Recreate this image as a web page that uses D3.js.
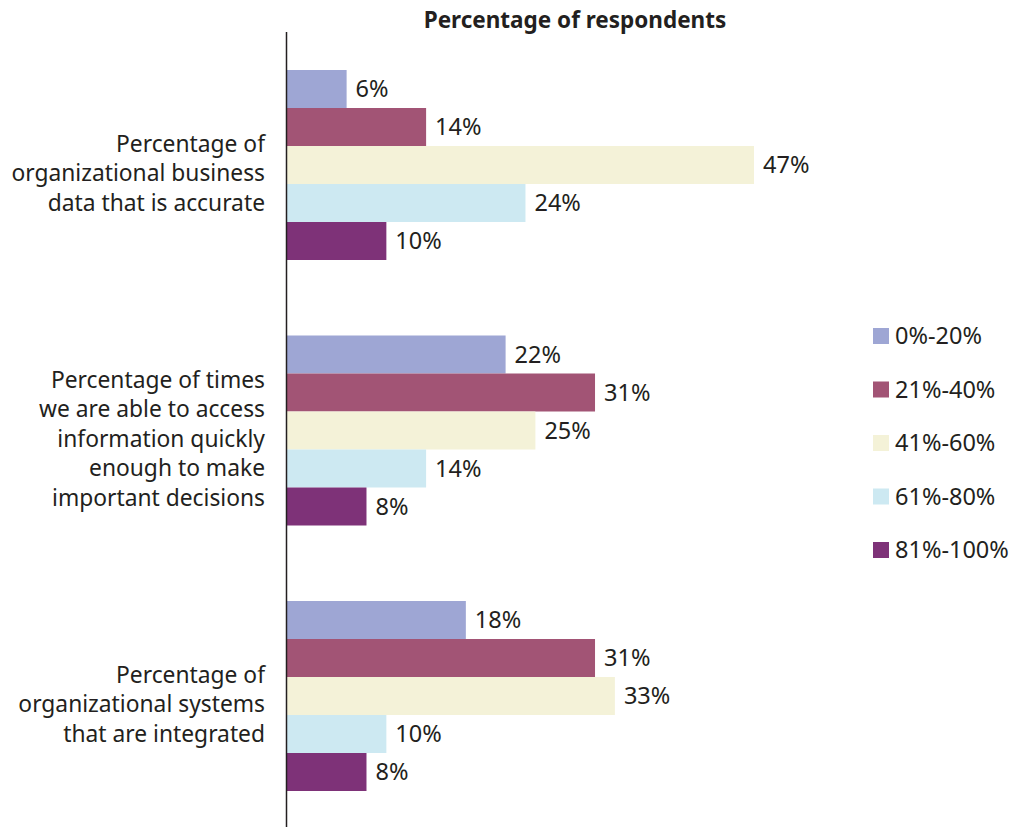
<!DOCTYPE html>
<html>
<head>
<meta charset="utf-8">
<script src="https://cdn.jsdelivr.net/npm/d3@7"></script>
<style>
  html, body { margin: 0; padding: 0; background: #fff; }
  svg { display: block; font-family: "Noto Sans", "Open Sans", sans-serif; }
</style>
</head>
<body>
<svg id="chart" width="1018" height="827"></svg>
<script>
// Survey questions (y categories), one line per array entry
const categories = [
  ["Percentage of", "organizational business", "data that is accurate"],
  ["Percentage of times", "we are able to access", "information quickly", "enough to make", "important decisions"],
  ["Percentage of", "organizational systems", "that are integrated"]
];
// Response bands (series)
const bands = ["0%-20%", "21%-40%", "41%-60%", "61%-80%", "81%-100%"];
const bandColors = ["#9ea6d4", "#a25475", "#f4f2d8", "#cde9f2", "#7e3278"];
// Percentage of respondents, per category, per band
const values = [
  [6, 14, 47, 24, 10],
  [22, 31, 25, 14, 8],
  [18, 31, 33, 10, 8]
];
const title = "Percentage of respondents";

const svg = d3.select("#chart");
const textColor = "#231f20";

const x = d3.scaleLinear().domain([0, 47]).range([287, 754]);
// Groups are 265.5px apart; each group holds five 38px bars
const groupStep = 265.5;
const barH = 38;
const groupTop = i => 70 + i * groupStep;
const y1 = d3.scaleBand().domain(d3.range(bands.length)).range([0, barH * bands.length]);

// Title
svg.append("text")
  .attr("x", 575).attr("y", 28)
  .attr("text-anchor", "middle")
  .attr("font-weight", "bold")
  .attr("font-size", 22.5)
  .attr("fill", textColor)
  .text(title);

// Bars and value labels
const groups = svg.selectAll("g.group")
  .data(values)
  .join("g")
  .attr("class", "group")
  .attr("transform", (d, i) => `translate(0,${groupTop(i)})`);

groups.selectAll("rect")
  .data(d => d)
  .join("rect")
  .attr("x", x(0))
  .attr("y", (d, j) => y1(j))
  .attr("width", d => x(d) - x(0))
  .attr("height", y1.bandwidth())
  .attr("fill", (d, j) => bandColors[j]);

groups.selectAll("text.val")
  .data(d => d)
  .join("text")
  .attr("class", "val")
  .attr("x", d => x(d) + 9)
  .attr("y", (d, j) => y1(j) + y1.bandwidth() / 2)
  .attr("dy", "0.36em")
  .attr("font-size", 23.5)
  .attr("fill", textColor)
  .text(d => d + "%");

// Category labels, right-aligned against the axis
const lineH = 29.5;
categories.forEach((lines, i) => {
  const center = groupTop(i) + (barH * bands.length) / 2 + 8;
  const t = svg.append("text")
    .attr("text-anchor", "end")
    .attr("font-size", 22.8)
    .attr("fill", textColor);
  lines.forEach((ln, k) => {
    t.append("tspan")
      .attr("x", 265)
      .attr("y", center + (k - (lines.length - 1) / 2) * lineH)
      .attr("dy", "0.36em")
      .text(ln);
  });
});

// Vertical axis line
svg.append("line")
  .attr("x1", 286.5).attr("x2", 286.5)
  .attr("y1", 32).attr("y2", 827)
  .attr("stroke", "#231f20")
  .attr("stroke-width", 1.5);

// Legend
const legend = svg.append("g");
const legY = d3.scaleLinear().domain([0, bands.length - 1]).range([336, 550]);
bands.forEach((b, j) => {
  legend.append("rect")
    .attr("x", 873).attr("y", legY(j) - 8)
    .attr("width", 16).attr("height", 16)
    .attr("fill", bandColors[j]);
  legend.append("text")
    .attr("x", 895).attr("y", legY(j))
    .attr("dy", "0.36em")
    .attr("font-size", 23.5)
    .attr("fill", textColor)
    .text(b);
});
</script>
</body>
</html>
